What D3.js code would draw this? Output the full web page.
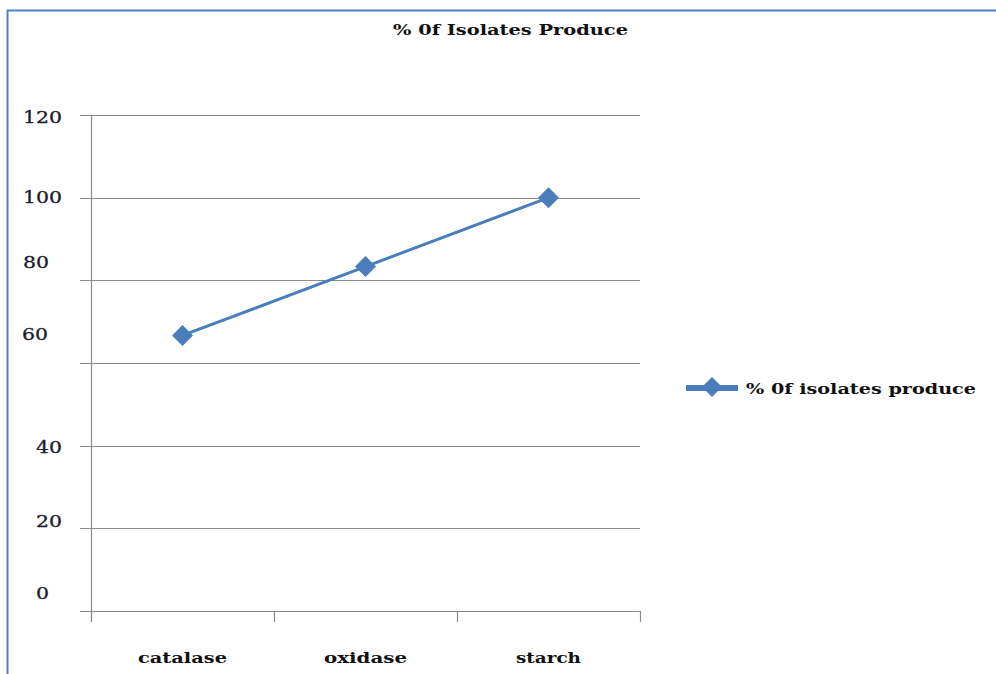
<!DOCTYPE html>
<html>
<head>
<meta charset="utf-8">
<script src="https://cdn.jsdelivr.net/npm/d3@7"></script>
<style>
  html, body { margin: 0; padding: 0; background: #fff; overflow: hidden; }
  svg { display: block; }
</style>
</head>
<body>
<svg id="chart" width="996" height="674"></svg>
<script>
// Chart data
const categories = ["catalase", "oxidase", "starch"];
const percentProduce = [66.67, 83.33, 100];
const yTicks = [0, 20, 40, 60, 80, 100, 120];
const chartTitle = "% 0f Isolates Produce";
const seriesName = "% 0f isolates produce";

// Layout
const plot = { left: 91, right: 640, top: 115, bottom: 611 };
const blue = "#4a7ebb";
const gridColor = "#8c8c8c";
const serif = "'DejaVu Serif', 'Liberation Serif', serif";
// hand-placed y label offsets (x start, vertical shift from gridline)
const yLabelPlace = [
  { x: 36, dy: -18 }, { x: 36, dy: -7 }, { x: 36, dy: 1 },
  { x: 22, dy: -29 }, { x: 23, dy: -18 }, { x: 23, dy: -1 }, { x: 23, dy: 2 }
];
const digitWidth = 13;
const xLabelWidths = [89, 83, 65];

const svg = d3.select("#chart");

// outer frame (top and left edges visible)
svg.append("line").attr("x1", 7).attr("x2", 996).attr("y1", 10.5).attr("y2", 10.5)
  .attr("stroke", "#4f81bd").attr("stroke-width", 2);
svg.append("line").attr("x1", 7.5).attr("x2", 7.5).attr("y1", 10).attr("y2", 674)
  .attr("stroke", "#4f81bd").attr("stroke-width", 2);

const x = d3.scaleBand().domain(categories).range([plot.left, plot.right]);
const y = d3.scaleLinear().domain([0, 120]).range([plot.bottom, plot.top]);

// gridlines + y ticks
svg.append("g").selectAll("line").data(yTicks).join("line")
  .attr("x1", plot.left - 11).attr("x2", plot.right)
  .attr("y1", d => Math.round(y(d)) + 0.5).attr("y2", d => Math.round(y(d)) + 0.5)
  .attr("stroke", gridColor).attr("stroke-width", 1);

// y axis line
svg.append("line").attr("x1", plot.left + 0.5).attr("x2", plot.left + 0.5)
  .attr("y1", plot.top).attr("y2", plot.bottom + 11)
  .attr("stroke", gridColor).attr("stroke-width", 1.2);

// x axis ticks at category boundaries
const xBounds = categories.map(c => x(c)).concat([plot.right]);
svg.append("g").selectAll("line").data(xBounds).join("line")
  .attr("x1", d => Math.round(d) + 0.5).attr("x2", d => Math.round(d) + 0.5)
  .attr("y1", plot.bottom).attr("y2", plot.bottom + 11)
  .attr("stroke", gridColor).attr("stroke-width", 1.2);

// y labels
svg.append("g").selectAll("text").data(yTicks).join("text")
  .attr("x", (d, i) => yLabelPlace[i].x)
  .attr("y", (d, i) => y(d) + yLabelPlace[i].dy + 6)
  .attr("font-family", serif).attr("font-size", 16)
  .attr("fill", "#1c1c30").attr("stroke", "#1c1c30").attr("stroke-width", 0.3)
  .attr("textLength", d => String(d).length * digitWidth).attr("lengthAdjust", "spacingAndGlyphs")
  .text(d => d);

// x labels
svg.append("g").selectAll("text").data(categories).join("text")
  .attr("x", d => x(d) + x.bandwidth() / 2)
  .attr("y", 663)
  .attr("text-anchor", "middle")
  .attr("font-family", serif).attr("font-size", 15).attr("font-weight", "bold")
  .attr("fill", "#111")
  .attr("textLength", (d, i) => xLabelWidths[i]).attr("lengthAdjust", "spacingAndGlyphs")
  .text(d => d);

// title
svg.append("text").attr("x", 393).attr("y", 35)
  .attr("font-family", serif).attr("font-size", 15).attr("font-weight", "bold")
  .attr("fill", "#111")
  .attr("textLength", 235).attr("lengthAdjust", "spacingAndGlyphs")
  .text(chartTitle);

// series line
const pts = categories.map((c, i) => [x(c) + x.bandwidth() / 2, y(percentProduce[i])]);
svg.append("path").datum(pts)
  .attr("d", d3.line())
  .attr("fill", "none").attr("stroke", blue).attr("stroke-width", 3);

const diamond = (cx, cy, r) => `M${cx},${cy - r}L${cx + r},${cy}L${cx},${cy + r}L${cx - r},${cy}Z`;
svg.append("g").selectAll("path").data(pts).join("path")
  .attr("d", d => diamond(d[0], d[1], 10.5))
  .attr("fill", blue);

// legend
svg.append("line").attr("x1", 686).attr("x2", 738).attr("y1", 388).attr("y2", 388)
  .attr("stroke", blue).attr("stroke-width", 6);
svg.append("path").attr("d", diamond(712, 387, 10)).attr("fill", blue);
svg.append("text").attr("x", 746).attr("y", 394)
  .attr("font-family", serif).attr("font-size", 15).attr("font-weight", "bold")
  .attr("fill", "#111")
  .attr("textLength", 230).attr("lengthAdjust", "spacingAndGlyphs")
  .text(seriesName);
</script>
</body>
</html>
